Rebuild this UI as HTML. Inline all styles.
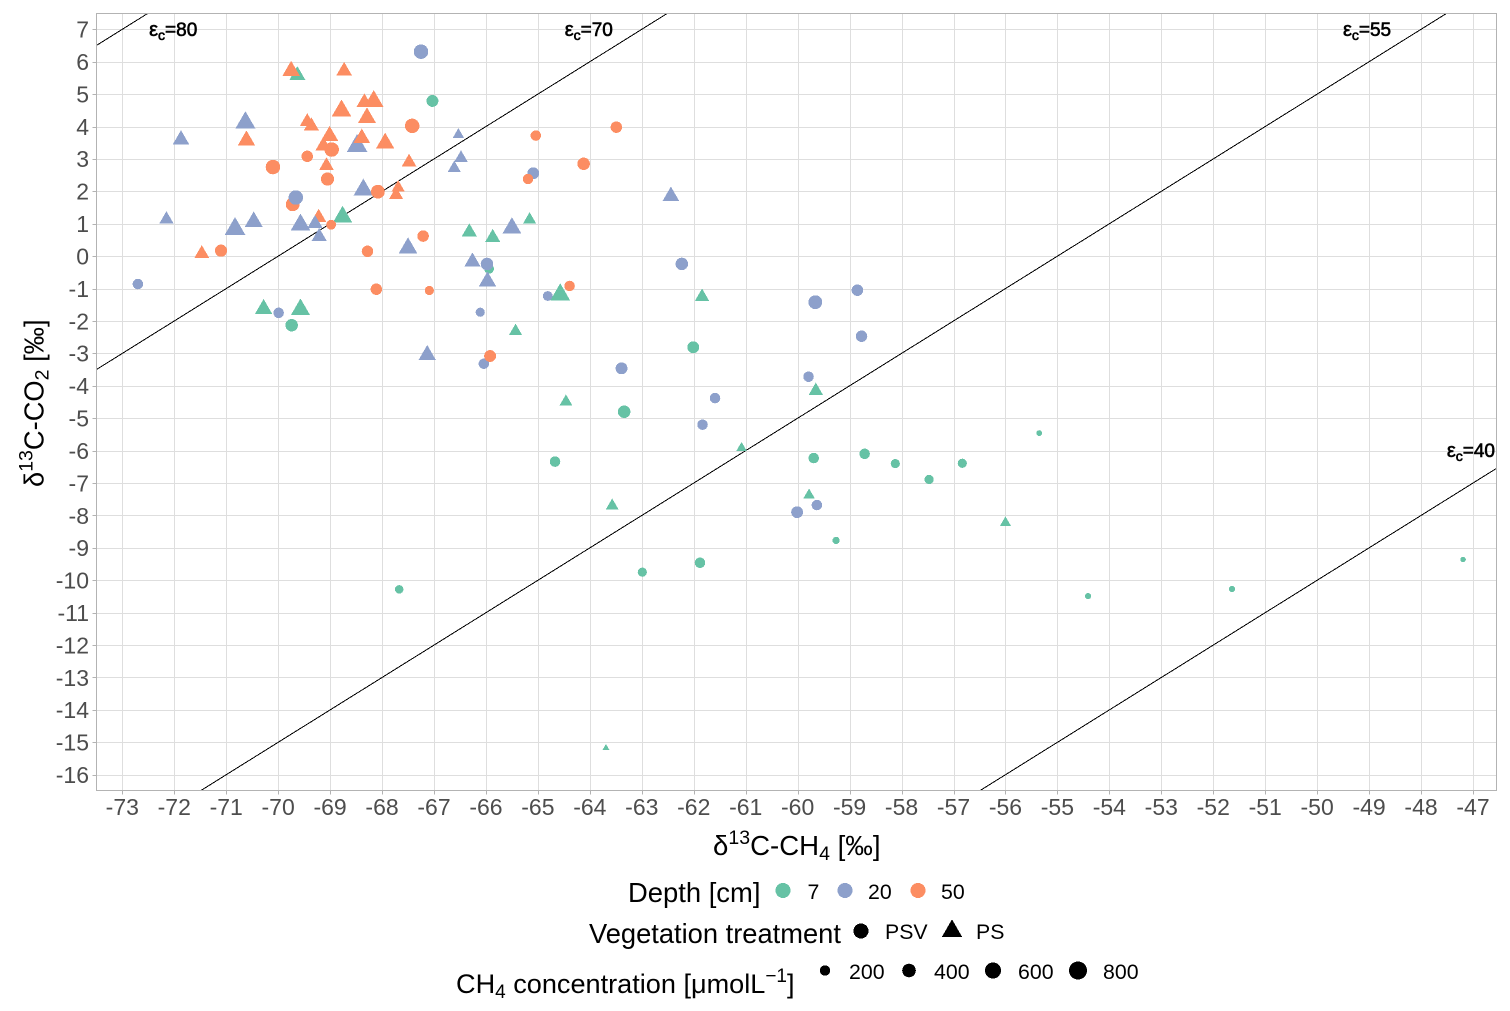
<!DOCTYPE html>
<html lang="en">
<head>
<meta charset="utf-8">
<title>Isotope scatter chart</title>
<style>
html,body{margin:0;padding:0;background:#fff;width:1510px;height:1011px;overflow:hidden}
svg{display:block;font-family:"Liberation Sans",Arial,sans-serif}
text{white-space:pre}
</style>
</head>
<body>
<svg id="chart" xmlns="http://www.w3.org/2000/svg" width="1510" height="1011" viewBox="0 0 1510 1011">
<rect x="0" y="0" width="1510" height="1011" fill="#fff"/>
<g id="grid"></g>
<g id="lines"></g>
<g id="points"></g>
<g id="eps-labels"></g>
<rect x="96.5" y="13.5" width="1400" height="777" fill="none" stroke="#B3B3B3" stroke-width="1" shape-rendering="crispEdges"/>
<g id="axes"></g>

<text x="713" y="855" font-size="27.6" fill="#000">δ<tspan dy="-11" font-size="19.5">13</tspan><tspan dy="11">C-CH</tspan><tspan dy="5" font-size="19.5">4</tspan><tspan dy="-5"> [‰]</tspan></text>
<text transform="translate(43.5,487) rotate(-90)" x="0" y="0" font-size="27.3" fill="#000">δ<tspan dy="-11" font-size="19.5">13</tspan><tspan dy="11">C-CO</tspan><tspan dy="5" font-size="19.5">2</tspan><tspan dy="-5"> [‰]</tspan></text>

<g id="legend">
<text x="628" y="902" font-size="27.4" fill="#000">Depth [cm]</text>
<text x="807.5" y="899" font-size="21.3" fill="#000">7</text>
<text x="868" y="899" font-size="21.3" fill="#000">20</text>
<text x="941" y="899" font-size="21.3" fill="#000">50</text>
<text x="589" y="943" font-size="27.3" fill="#000">Vegetation treatment</text>
<text x="885" y="939" font-size="21.3" fill="#000">PSV</text>
<text x="976" y="939" font-size="21.3" fill="#000">PS</text>
<text x="456" y="993" font-size="27.1" fill="#000">CH<tspan dy="5" font-size="19">4</tspan><tspan dy="-5"> concentration [μmolL</tspan><tspan dy="-11" font-size="19">−1</tspan><tspan dy="11">]</tspan></text>
<text x="849" y="979" font-size="21.3" fill="#000">200</text>
<text x="934" y="979" font-size="21.3" fill="#000">400</text>
<text x="1018" y="979" font-size="21.3" fill="#000">600</text>
<text x="1103" y="979" font-size="21.3" fill="#000">800</text>
<g id="legend-keys"></g>
</g>
</svg>

<script>
const xTicks = [-73,-72,-71,-70,-69,-68,-67,-66,-65,-64,-63,-62,-61,-60,-59,-58,-57,-56,-55,-54,-53,-52,-51,-50,-49,-48,-47];
const yTicks = [7,6,5,4,3,2,1,0,-1,-2,-3,-4,-5,-6,-7,-8,-9,-10,-11,-12,-13,-14,-15,-16];

const epsilonValues = [80,70,55,40];
const epsilonLabelX = [-72.02,-64.02,-49.04,-47.04];
const epsilonLabelY = [7,7,7,-6];

const depthCategories = [7,20,50];
const vegetationCategories = ['PSV','PS'];
const concentrationBreaks = [200,400,600,800];

const pointX = [
  -69.63,-67.03,-68.76,-66.32,-65.87,-65.16,-65.94,-70.28,-69.57,-69.74,-65.43,-61.84,-62.01,-64.46,-63.34,-59.65,-61.08,-64.67,-59.69,-58.71,-58.12,-57.47,-56.83,-55.35,-63.57,-59.78,-56.00,-59.26,-61.88,-62.99,-67.67,-54.41,-51.64,-47.19,-63.69,
  -64.81,-64.57,
  -69.22,-69.72,
  -68.48,-70.63,-71.87,-66.53,-66.48,-66.61,-68.36,-72.15,-70.83,-70.47,-69.57,-69.29,-69.21,-67.50,-66.26,-65.97,-65.50,-67.13,-62.44,
  -67.25,-69.66,-65.98,-72.70,-69.99,-66.11,-66.04,-65.09,-62.23,-59.66,-58.85,-58.77,-63.39,-59.79,-61.59,-61.83,-59.63,-60.01,
  -69.75,-68.73,-68.16,-68.34,-68.78,-68.29,-69.44,-69.36,-69.01,-69.13,-68.39,-67.94,-70.61,-67.48,-69.07,-67.69,-67.73,-71.47,
  -68.97,-69.44,-70.10,-69.05,-67.42,-68.08,-68.98,-71.10,-68.28,-67.21,-68.11,-67.09,-65.92,-64.39,-65.04,-63.49,-64.12,-65.19
];
const pointY = [
  5.58,4.79,1.21,0.74,0.57,1.12,-0.39,-1.63,-1.65,-2.13,-2.32,-1.26,-2.81,-4.49,-4.80,-4.16,-5.92,-6.34,-6.23,-6.10,-6.40,-6.89,-6.39,-5.46,-7.70,-7.37,-8.23,-8.77,-9.46,-9.75,-10.28,-10.49,-10.27,-9.36,-15.17,
  -1.23,-1.19,
  1.19,1.60,
  3.40,4.12,3.59,3.75,3.03,2.71,2.05,1.14,0.84,1.06,0.97,1.00,0.60,0.25,-0.17,-0.78,0.87,-3.05,1.85,
  6.31,1.81,-0.24,-0.86,-1.75,-1.73,-3.32,2.56,-0.24,-1.42,-1.05,-2.47,-3.46,-3.72,-4.38,-5.20,-7.68,-7.90,
  5.72,5.71,4.78,4.74,4.48,4.27,4.15,4.01,3.71,3.40,3.64,3.49,3.57,2.90,2.79,2.11,1.89,0.08,
  3.29,3.08,2.75,2.38,4.02,1.99,0.97,0.17,0.15,0.62,-1.02,-1.06,-3.08,-0.92,3.72,3.98,2.85,2.38
];
const pointConc = [
  280,280,460,250,250,170,165,350,460,321,170,222,280,146,321,222,85,200,200,200,137,137,137,28,146,104,104,63,200,137,108,36,36,22,14,
  165,490,
  250,415,
  540,490,315,104,170,170,460,195,540,385,460,250,250,420,280,350,420,350,315,
  470,470,321,200,200,137,200,280,321,415,257,257,280,200,200,200,200,280,
  350,280,460,280,490,385,222,250,350,280,315,385,350,222,222,170,195,222,
  470,257,470,370,470,415,165,300,257,257,257,137,280,200,200,257,321,200
];
const pointDepth = [
  7,7,7,7,7,7,7,7,7,7,7,7,7,7,7,7,7,7,7,7,7,7,7,7,7,7,7,7,7,7,7,7,7,7,7,
  20,7,
  50,50,
  20,20,20,20,20,20,20,20,20,20,20,20,20,20,20,20,20,20,20,
  20,20,20,20,20,20,20,20,20,20,20,20,20,20,20,20,20,20,
  50,50,50,50,50,50,50,50,50,50,50,50,50,50,50,50,50,50,
  50,50,50,50,50,50,50,50,50,50,50,50,50,50,50,50,50,50
];
const pointVegetation = [
  'PS','PSV','PS','PS','PS','PS','PSV','PS','PS','PSV','PS','PS','PSV','PS','PSV','PS','PS','PSV','PSV','PSV','PSV','PSV','PSV','PSV','PS','PS','PS','PSV','PSV','PSV','PSV','PSV','PSV','PSV','PS',
  'PSV','PS',
  'PS','PSV',
  'PS','PS','PS','PS','PS','PS','PS','PS','PS','PS','PS','PS','PS','PS','PS','PS','PS','PS','PS',
  'PSV','PSV','PSV','PSV','PSV','PSV','PSV','PSV','PSV','PSV','PSV','PSV','PSV','PSV','PSV','PSV','PSV','PSV',
  'PS','PS','PS','PS','PS','PS','PS','PS','PS','PS','PS','PS','PS','PS','PS','PS','PS','PS',
  'PSV','PSV','PSV','PSV','PSV','PSV','PSV','PSV','PSV','PSV','PSV','PSV','PSV','PSV','PSV','PSV','PSV','PSV'
];

const NS = 'http://www.w3.org/2000/svg';
const panel = {left:96.5,right:1496.5,top:13.5,bottom:790.5};
const palette = {7:'#66C2A5',20:'#8DA0CB',50:'#FC8D62'};

function xScale(v){ return 122.3 + (v + 73) * 51.95; }
function yScale(v){ return 29.3 + (7 - v) * 32.41; }
function xInverse(p){ return -73 + (p - 122.3) / 51.95; }
function yInverse(p){ return 7 - (p - 29.3) / 32.41; }
function diameter(conc){ return 3 + 0.53 * Math.sqrt(conc); }

function make(tag, parent, attrs){
  const el = document.createElementNS(NS, tag);
  for (const k in attrs) el.setAttribute(k, attrs[k]);
  parent.appendChild(el);
  return el;
}
function marker(parent, shape, cx, cy, d, fill){
  if (shape === 'PS') {
    const r = 0.7776 * d, hw = 0.6734 * d;
    return make('polygon', parent, {
      points: cx + ',' + (cy - r) + ' ' + (cx + hw) + ',' + (cy + r / 2) + ' ' + (cx - hw) + ',' + (cy + r / 2),
      fill: fill, 'shape-rendering': 'crispEdges'
    });
  }
  return make('circle', parent, {cx: cx, cy: cy, r: d / 2, fill: fill, 'shape-rendering': 'crispEdges'});
}

const gridG = document.getElementById('grid');
const axesG = document.getElementById('axes');
xTicks.forEach(function(t){
  const x = Math.round(xScale(t)) + 0.5;
  const gl = make('line', gridG, {x1:x, x2:x, y1:panel.top, y2:panel.bottom, stroke:'#DEDEDE', 'stroke-width':1, 'shape-rendering':'crispEdges'});
  
  
  const tk = make('line', axesG, {x1:x, x2:x, y1:panel.bottom, y2:panel.bottom + 4, stroke:'#B3B3B3', 'stroke-width':1, 'shape-rendering':'crispEdges'});
  
  
  const lb = make('text', axesG, {x:xScale(t), y:815, 'text-anchor':'middle', 'font-size':23, fill:'#4D4D4D'});
  lb.textContent = String(t);
  
  
});
yTicks.forEach(function(t){
  const y = Math.round(yScale(t)) + 0.5;
  const gl = make('line', gridG, {x1:panel.left, x2:panel.right, y1:y, y2:y, stroke:'#DEDEDE', 'stroke-width':1, 'shape-rendering':'crispEdges'});
  
  
  const tk = make('line', axesG, {x1:panel.left - 4, x2:panel.left, y1:y, y2:y, stroke:'#B3B3B3', 'stroke-width':1, 'shape-rendering':'crispEdges'});
  
  
  const lb = make('text', axesG, {x:89, y:yScale(t) + 8.3, 'text-anchor':'end', 'font-size':23, fill:'#4D4D4D'});
  lb.textContent = String(t);
  
  
});

const xMin = xInverse(panel.left), xMax = xInverse(panel.right);
const yMin = yInverse(panel.bottom), yMax = yInverse(panel.top);
const linesG = document.getElementById('lines');
epsilonValues.forEach(function(eps){
  // delta13C-CO2 = delta13C-CH4 + eps, clipped to the panel
  const x0 = Math.max(xMin, yMin - eps);
  const x1 = Math.min(xMax, yMax - eps);
  const ln = make('line', linesG, {
    x1:xScale(x0), y1:yScale(x0 + eps), x2:xScale(x1), y2:yScale(x1 + eps),
    stroke:'#000', 'stroke-width':1, 'shape-rendering':'crispEdges'
  });
  
  
});

const ptsG = document.getElementById('points');
pointX.forEach(function(v, i){
  const m = marker(ptsG, pointVegetation[i], xScale(v), yScale(pointY[i]), diameter(pointConc[i]), palette[pointDepth[i]]);
  
  
});

const epsG = document.getElementById('eps-labels');
epsilonValues.forEach(function(eps, i){
  const t = make('text', epsG, {
    x:xScale(epsilonLabelX[i]), y:yScale(epsilonLabelY[i]) + 6.5, 'text-anchor':'middle',
    'font-size':19, fill:'#000', stroke:'#000', 'stroke-width':0.6
  });
  
  
  const a = make('tspan', t, {'font-size':20});
  a.textContent = 'ε';
  const b = make('tspan', t, {dy:4, 'font-size':14});
  b.textContent = 'c';
  const c = make('tspan', t, {dy:-4});
  c.textContent = '=' + eps;
});

const keysG = document.getElementById('legend-keys');
const depthKeyX = [783,845,918];
depthCategories.forEach(function(dep, i){
  const k = marker(keysG, 'PSV', depthKeyX[i], 890.5, 15, palette[dep]);
  
  
});
const vegKeyX = [861,952];
vegetationCategories.forEach(function(veg, i){
  const k = marker(keysG, veg, vegKeyX[i], 931, 15, '#000');
  
  
});
const concKeyX = [825,909,993,1078];
concentrationBreaks.forEach(function(c, i){
  const k = marker(keysG, 'PSV', concKeyX[i], 970.5, diameter(c), '#000');
  
  
});
</script>
</body>
</html>
